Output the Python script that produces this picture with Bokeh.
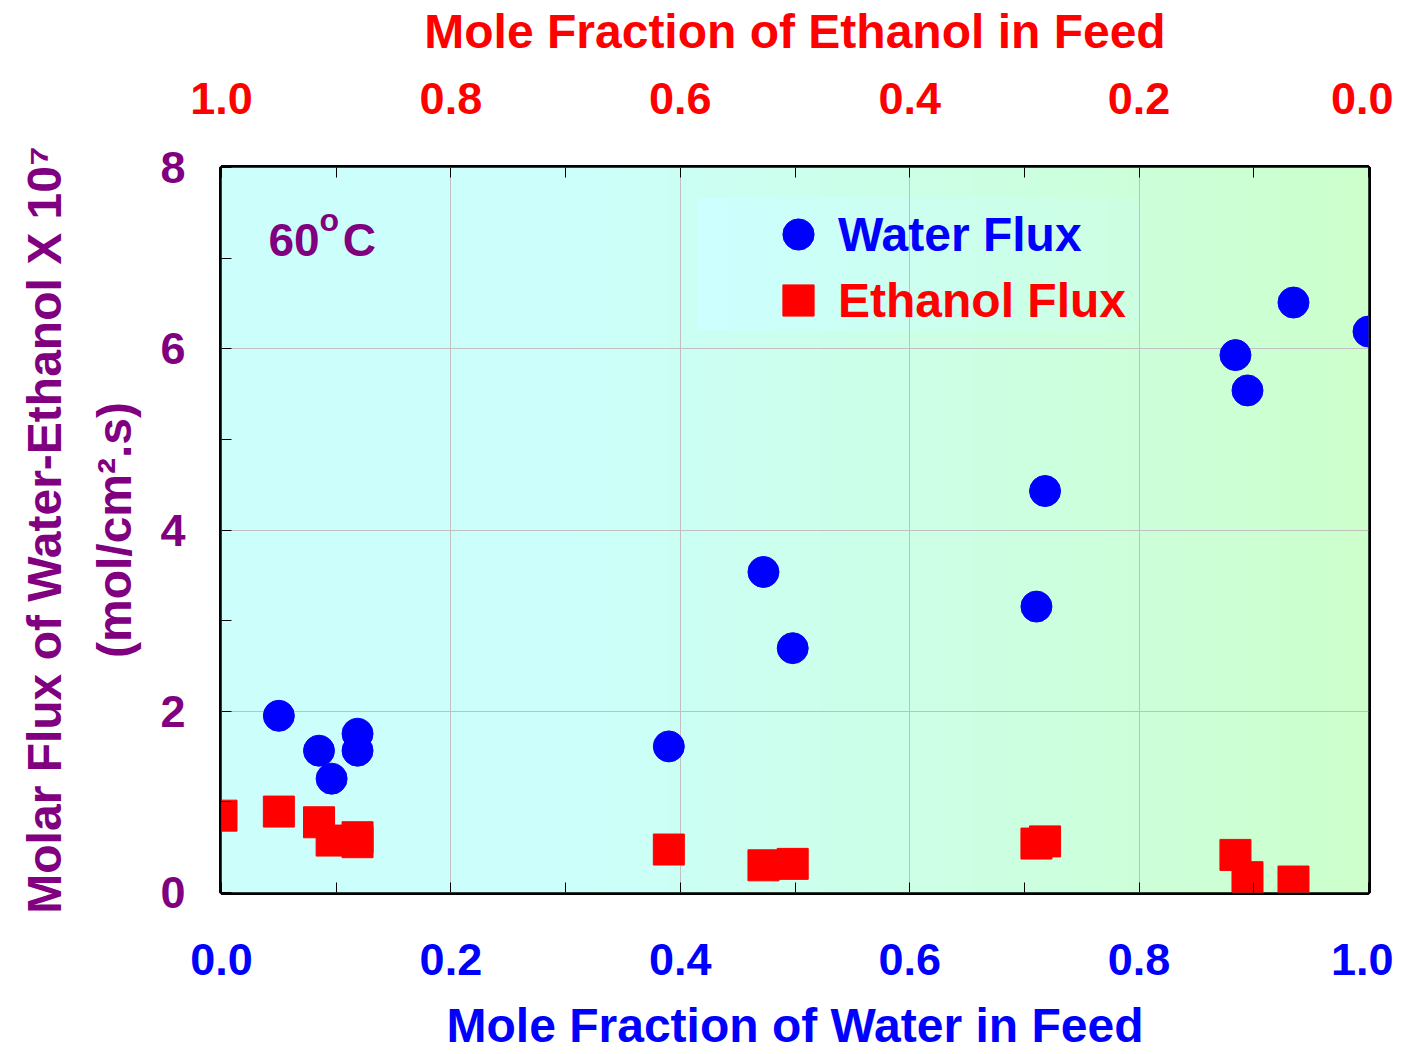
import numpy as np
from bokeh.plotting import figure
from bokeh.models import (LinearAxis, Range1d, FixedTicker, CustomJSTickFormatter,
                          Legend, LegendItem, Label)
from bokeh.embed import file_html
from bokeh.resources import INLINE

# ---- data ----
water_x = [0.05, 0.085, 0.096, 0.1186, 0.1186, 0.39, 0.4725, 0.498, 0.7105, 0.718, 0.884, 0.8945, 0.9346, 1.0]
water_y = [1.95, 1.565, 1.256, 1.752, 1.565, 1.612, 3.537, 2.696, 3.155, 4.43, 5.93, 5.54, 6.51, 6.19]
eth_x = [0.0, 0.05, 0.085, 0.096, 0.1186, 0.1186, 0.39, 0.4725, 0.498, 0.7105, 0.718, 0.884, 0.8945, 0.9346]
eth_y = [0.848, 0.893, 0.775, 0.573, 0.61, 0.555, 0.474, 0.30, 0.316, 0.54, 0.564, 0.415, 0.169, 0.121]
x_ticks = [0.0, 0.2, 0.4, 0.6, 0.8, 1.0]
x_minor = [0.1, 0.3, 0.5, 0.7, 0.9]
y_ticks = [0, 2, 4, 6, 8]
y_minor = [1, 3, 5, 7]

FONT = "Liberation Sans"
PURPLE = "#800080"

p = figure(width=1393, height=1054, x_range=Range1d(0, 1), y_range=Range1d(0, 8),
           output_backend="svg", toolbar_location=None,
           min_border_left=221, min_border_right=25, min_border_top=167, min_border_bottom=161,
           x_axis_location="below")
p.background_fill_color = "white"
p.border_fill_color = "white"

# gradient background (cyan -> light green)
nx = 300
xs = np.linspace(0, 1, nx)
t = np.clip((xs - 0.3) / 0.7, 0, 1)
img = np.zeros((2, nx), dtype=np.uint32)
view = img.view(dtype=np.uint8).reshape((2, nx, 4))
for row in range(2):
    view[row, :, 0] = 204
    view[row, :, 1] = 255
    view[row, :, 2] = (251 - t * 47).astype(np.uint8)
    view[row, :, 3] = 255
p.image_rgba(image=[img], x=0, y=0, dw=1, dh=8, level="image")

# legend background box (gradient)
lx0, lx1, ly0, ly1 = 0.415, 0.801, 6.20, 7.67
nl = 100
tl = np.linspace(0, 1, nl)
limg = np.zeros((2, nl), dtype=np.uint32)
lv = limg.view(dtype=np.uint8).reshape((2, nl, 4))
for row in range(2):
    lv[row, :, 0] = 204
    lv[row, :, 1] = 255
    lv[row, :, 2] = (255 - tl * 30).astype(np.uint8)
    lv[row, :, 3] = 255
p.image_rgba(image=[limg], x=lx0, y=ly0, dw=lx1 - lx0, dh=ly1 - ly0, level="image")

# grid
p.xgrid.ticker = FixedTicker(ticks=x_ticks)
p.ygrid.ticker = FixedTicker(ticks=y_ticks)
p.grid.grid_line_color = "#c0c0c0"
p.grid.grid_line_width = 1
p.grid.level = "image"

p.outline_line_color = "black"
p.outline_line_width = 5

# data
wr = p.scatter(water_x, water_y, marker="circle", size=31, fill_color="blue", line_color="blue")
er = p.scatter(eth_x, eth_y, marker="square", size=31, fill_color="red", line_color="red")

def style_axis(ax, color, ticks, minor):
    ax.ticker = FixedTicker(ticks=ticks, minor_ticks=minor)
    ax.axis_line_color = None
    ax.major_tick_in = 10
    ax.major_tick_out = 0
    ax.minor_tick_in = 10
    ax.minor_tick_out = 0
    ax.major_tick_line_color = "black"
    ax.minor_tick_line_color = "black"
    ax.major_label_text_font = FONT
    ax.major_label_text_font_style = "bold"
    ax.major_label_text_font_size = "45px"
    ax.major_label_text_color = color
    ax.axis_label_text_font = FONT
    ax.axis_label_text_font_style = "bold"
    ax.axis_label_text_font_size = "48px"
    ax.axis_label_text_color = color

# bottom x axis
xb = p.xaxis[0]
style_axis(xb, "blue", x_ticks, x_minor)
xb.axis_label = "Mole Fraction of Water in Feed"
xb.formatter = CustomJSTickFormatter(code="return tick.toFixed(1);")
xb.major_label_standoff = 51
xb.axis_label_standoff = 21

# left y axis
yl = p.yaxis[0]
style_axis(yl, PURPLE, y_ticks, y_minor)
yl.axis_label = "Molar Flux of Water-Ethanol X 10\u2077\n(mol/cm\u00b2.s)"
yl.axis_label_text_line_height = 1.33
yl.major_label_standoff = 36
yl.axis_label_standoff = 16
yl.major_label_orientation = "horizontal"

# top axis (ethanol)
xt = LinearAxis()
style_axis(xt, "red", x_ticks, x_minor)
xt.axis_label = "Mole Fraction of Ethanol in Feed"
xt.formatter = CustomJSTickFormatter(code="return (1 - tick).toFixed(1);")
xt.major_label_standoff = 54
xt.axis_label_standoff = 22
p.add_layout(xt, "above")

# right axis (ticks only)
yr = LinearAxis()
yr.ticker = FixedTicker(ticks=[], minor_ticks=[])
yr.axis_line_color = None
yr.major_label_text_font_size = "0px"
yr.major_tick_line_color = None
yr.minor_tick_line_color = None
p.add_layout(yr, "right")

# legends (separate for separate label colours)
def make_legend(label, renderer, color, y_bottom):
    lg = Legend(items=[LegendItem(label=label, renderers=[renderer])],
                location=(538, y_bottom), orientation="vertical",
                glyph_width=78, glyph_height=78, label_standoff=1,
                padding=0, margin=0, spacing=0,
                background_fill_alpha=0, border_line_color=None,
                label_text_font=FONT, label_text_font_style="bold",
                label_text_font_size="48px", label_text_color=color)
    p.add_layout(lg, "center")

make_legend("Water Flux", wr, "blue", 619)
make_legend("Ethanol Flux", er, "red", 553)

# temperature annotation
common = dict(text_font=FONT, text_font_style="bold", text_color=PURPLE,
              text_baseline="bottom", text_align="left")
p.add_layout(Label(x=0.041, y=6.91, text="60\u2002C", text_font_size="46px", **common))
p.add_layout(Label(x=0.0854, y=7.22, text="o", text_font_size="32px", **common))

open("out.html", "w").write(file_html(p, INLINE))
